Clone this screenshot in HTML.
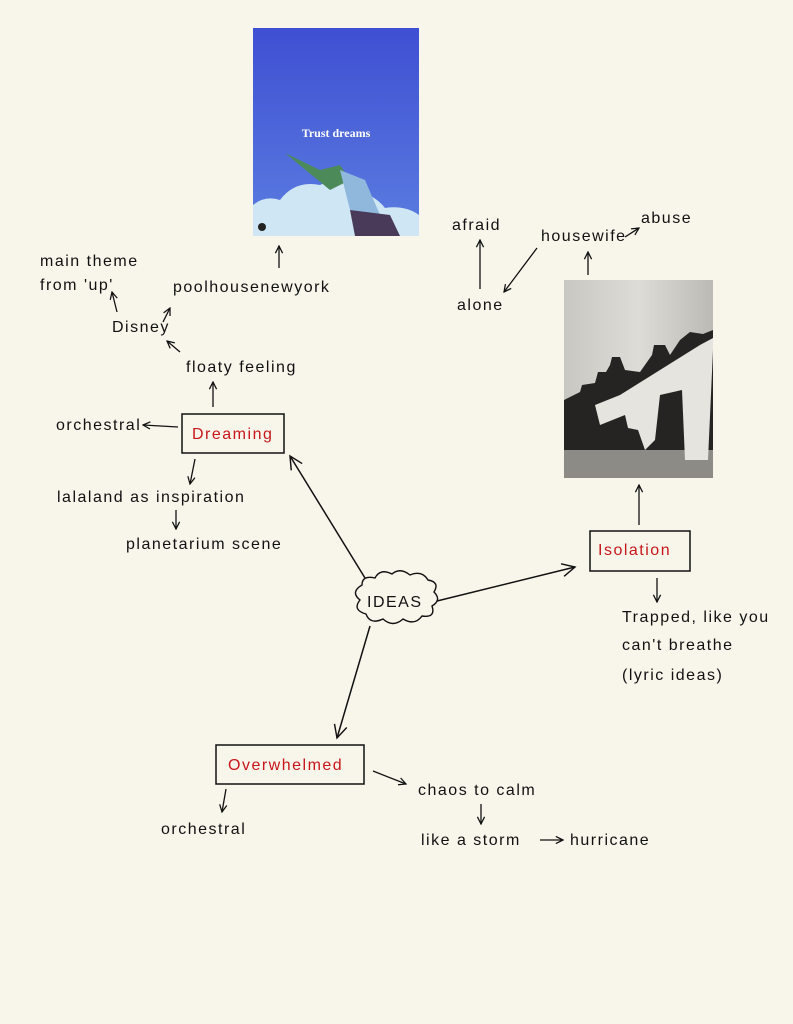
<!DOCTYPE html>
<html><head><meta charset="utf-8"><style>
html,body{margin:0;padding:0;background:#f8f5ea;}
svg{display:block}
text{font-family:"Liberation Sans",sans-serif;font-size:16px;fill:#111;letter-spacing:1.5px}
</style></head><body>
<svg width="793" height="1024" viewBox="0 0 793 1024" xmlns="http://www.w3.org/2000/svg">
<defs>
<marker id="a" viewBox="0 0 10 10" refX="9" refY="5" markerWidth="9" markerHeight="9" orient="auto-start-reverse" markerUnits="userSpaceOnUse">
<path d="M1 1 L9 5 L1 9" fill="none" stroke="#111" stroke-width="1.4"/></marker>
<marker id="b" viewBox="0 0 10 10" refX="9" refY="5" markerWidth="16" markerHeight="16" orient="auto" markerUnits="userSpaceOnUse">
<path d="M1 1 L9 5 L1 9" fill="none" stroke="#111" stroke-width="0.9"/></marker>
<linearGradient id="sky" x1="0" y1="0" x2="0" y2="1"><stop offset="0" stop-color="#3f4fd3"/><stop offset="1" stop-color="#5b7de0"/></linearGradient>
<linearGradient id="bw" x1="0" y1="0" x2="1" y2="0"><stop offset="0" stop-color="#c9c7c2"/><stop offset="0.5" stop-color="#dedcd6"/><stop offset="1" stop-color="#bcbab4"/></linearGradient>
</defs>
<!-- image 1 -->
<rect x="253" y="28" width="166" height="208" fill="url(#sky)"/>
<text x="336" y="137" text-anchor="middle" style="font-family:'Liberation Serif',serif;font-size:12px;font-weight:bold;fill:#fff;letter-spacing:0">Trust dreams</text>
<path d="M253 236 L253 205 Q265 195 280 200 Q295 180 320 185 Q340 175 355 190 Q375 195 385 208 Q405 205 419 215 L419 236 Z" fill="#cfe6f5"/>
<path d="M285 153 L320 170 L340 165 L350 180 L330 190 Z" fill="#4c8a5a"/>
<path d="M340 170 L365 180 L380 215 L350 210 Z" fill="#8fb8dc"/>
<path d="M350 210 L390 215 L400 236 L355 236 Z" fill="#4a3a5a"/>
<circle cx="262" cy="227" r="4" fill="#222"/>
<!-- image 2 -->
<rect x="564" y="280" width="149" height="198" fill="url(#bw)"/>
<path d="M564 400 L580 392 L582 385 L595 383 L598 372 L606 372 L610 365 L612 357 L620 357 L625 370 L640 372 L652 355 L654 345 L665 345 L670 355 L680 340 L690 332 L703 334 L713 330 L713 450 L564 450 Z" fill="#262422"/>
<rect x="564" y="450" width="149" height="28" fill="#8d8b86"/>
<path d="M595 405 L620 395 L700 345 L713 338 L713 350 L708 460 L685 460 L682 390 L660 395 L655 440 L645 450 L638 430 L628 428 L625 415 L600 425 Z" fill="#e6e4de"/>
<!-- Dreaming -->
<rect x="182" y="414" width="102" height="39" fill="none" stroke="#111" stroke-width="1.5"/>
<text x="192" y="439" style="fill:#c8161b">Dreaming</text>
<text x="56" y="430">orchestral</text>
<line x1="178" y1="427" x2="143" y2="425" stroke="#111" stroke-width="1.3" marker-end="url(#a)"/>
<text x="186" y="372">floaty feeling</text>
<line x1="213" y1="407" x2="213" y2="382" stroke="#111" stroke-width="1.3" marker-end="url(#a)"/>
<text x="112" y="332">Disney</text>
<line x1="180" y1="352" x2="167" y2="341" stroke="#111" stroke-width="1.3" marker-end="url(#a)"/>
<line x1="163" y1="322" x2="170" y2="308" stroke="#111" stroke-width="1.3" marker-end="url(#a)"/>
<line x1="117" y1="312" x2="112" y2="292" stroke="#111" stroke-width="1.3" marker-end="url(#a)"/>
<text x="40" y="266">main theme</text>
<text x="40" y="290">from 'up'</text>
<text x="173" y="292">poolhousenewyork</text>
<line x1="279" y1="268" x2="279" y2="246" stroke="#111" stroke-width="1.3" marker-end="url(#a)"/>
<line x1="195" y1="459" x2="190" y2="484" stroke="#111" stroke-width="1.3" marker-end="url(#a)"/>
<text x="57" y="502">lalaland as inspiration</text>
<line x1="176" y1="510" x2="176" y2="529" stroke="#111" stroke-width="1.3" marker-end="url(#a)"/>
<text x="126" y="549">planetarium scene</text>
<!-- IDEAS cloud -->
<path d="M362 585 Q362 575 375 578 Q380 568 392 574 Q400 567 410 575 Q422 570 428 580 Q440 582 434 592 Q442 600 432 606 Q436 618 422 616 Q415 626 403 619 Q393 628 383 619 Q370 625 366 614 Q352 610 360 600 Q350 592 362 585 Z" fill="none" stroke="#111" stroke-width="1.4"/>
<text x="367" y="607">IDEAS</text>
<line x1="365" y1="578" x2="290" y2="456" stroke="#111" stroke-width="1.5" marker-end="url(#b)"/>
<line x1="437" y1="601" x2="575" y2="567" stroke="#111" stroke-width="1.5" marker-end="url(#b)"/>
<line x1="370" y1="626" x2="337" y2="738" stroke="#111" stroke-width="1.5" marker-end="url(#b)"/>
<!-- Isolation -->
<rect x="590" y="531" width="100" height="40" fill="none" stroke="#111" stroke-width="1.5"/>
<text x="598" y="555" style="fill:#c8161b">Isolation</text>
<line x1="639" y1="525" x2="639" y2="485" stroke="#111" stroke-width="1.3" marker-end="url(#a)"/>
<line x1="657" y1="578" x2="657" y2="602" stroke="#111" stroke-width="1.3" marker-end="url(#a)"/>
<text x="622" y="622">Trapped, like you</text>
<text x="622" y="650">can't breathe</text>
<text x="622" y="680">(lyric ideas)</text>
<line x1="588" y1="275" x2="588" y2="252" stroke="#111" stroke-width="1.3" marker-end="url(#a)"/>
<text x="541" y="241">housewife</text>
<line x1="625" y1="237" x2="639" y2="228" stroke="#111" stroke-width="1.3" marker-end="url(#a)"/>
<text x="641" y="223">abuse</text>
<line x1="537" y1="248" x2="504" y2="292" stroke="#111" stroke-width="1.3" marker-end="url(#a)"/>
<text x="452" y="230">afraid</text>
<line x1="480" y1="289" x2="480" y2="240" stroke="#111" stroke-width="1.3" marker-end="url(#a)"/>
<text x="457" y="310">alone</text>
<!-- Overwhelmed -->
<rect x="216" y="745" width="148" height="39" fill="none" stroke="#111" stroke-width="1.5"/>
<text x="228" y="770" style="fill:#c8161b">Overwhelmed</text>
<line x1="226" y1="789" x2="222" y2="812" stroke="#111" stroke-width="1.3" marker-end="url(#a)"/>
<text x="161" y="834">orchestral</text>
<line x1="373" y1="771" x2="406" y2="784" stroke="#111" stroke-width="1.3" marker-end="url(#a)"/>
<text x="418" y="795">chaos to calm</text>
<line x1="481" y1="804" x2="481" y2="824" stroke="#111" stroke-width="1.3" marker-end="url(#a)"/>
<text x="421" y="845">like a storm</text>
<line x1="540" y1="840" x2="563" y2="840" stroke="#111" stroke-width="1.3" marker-end="url(#a)"/>
<text x="570" y="845">hurricane</text>
</svg>
</body></html>
